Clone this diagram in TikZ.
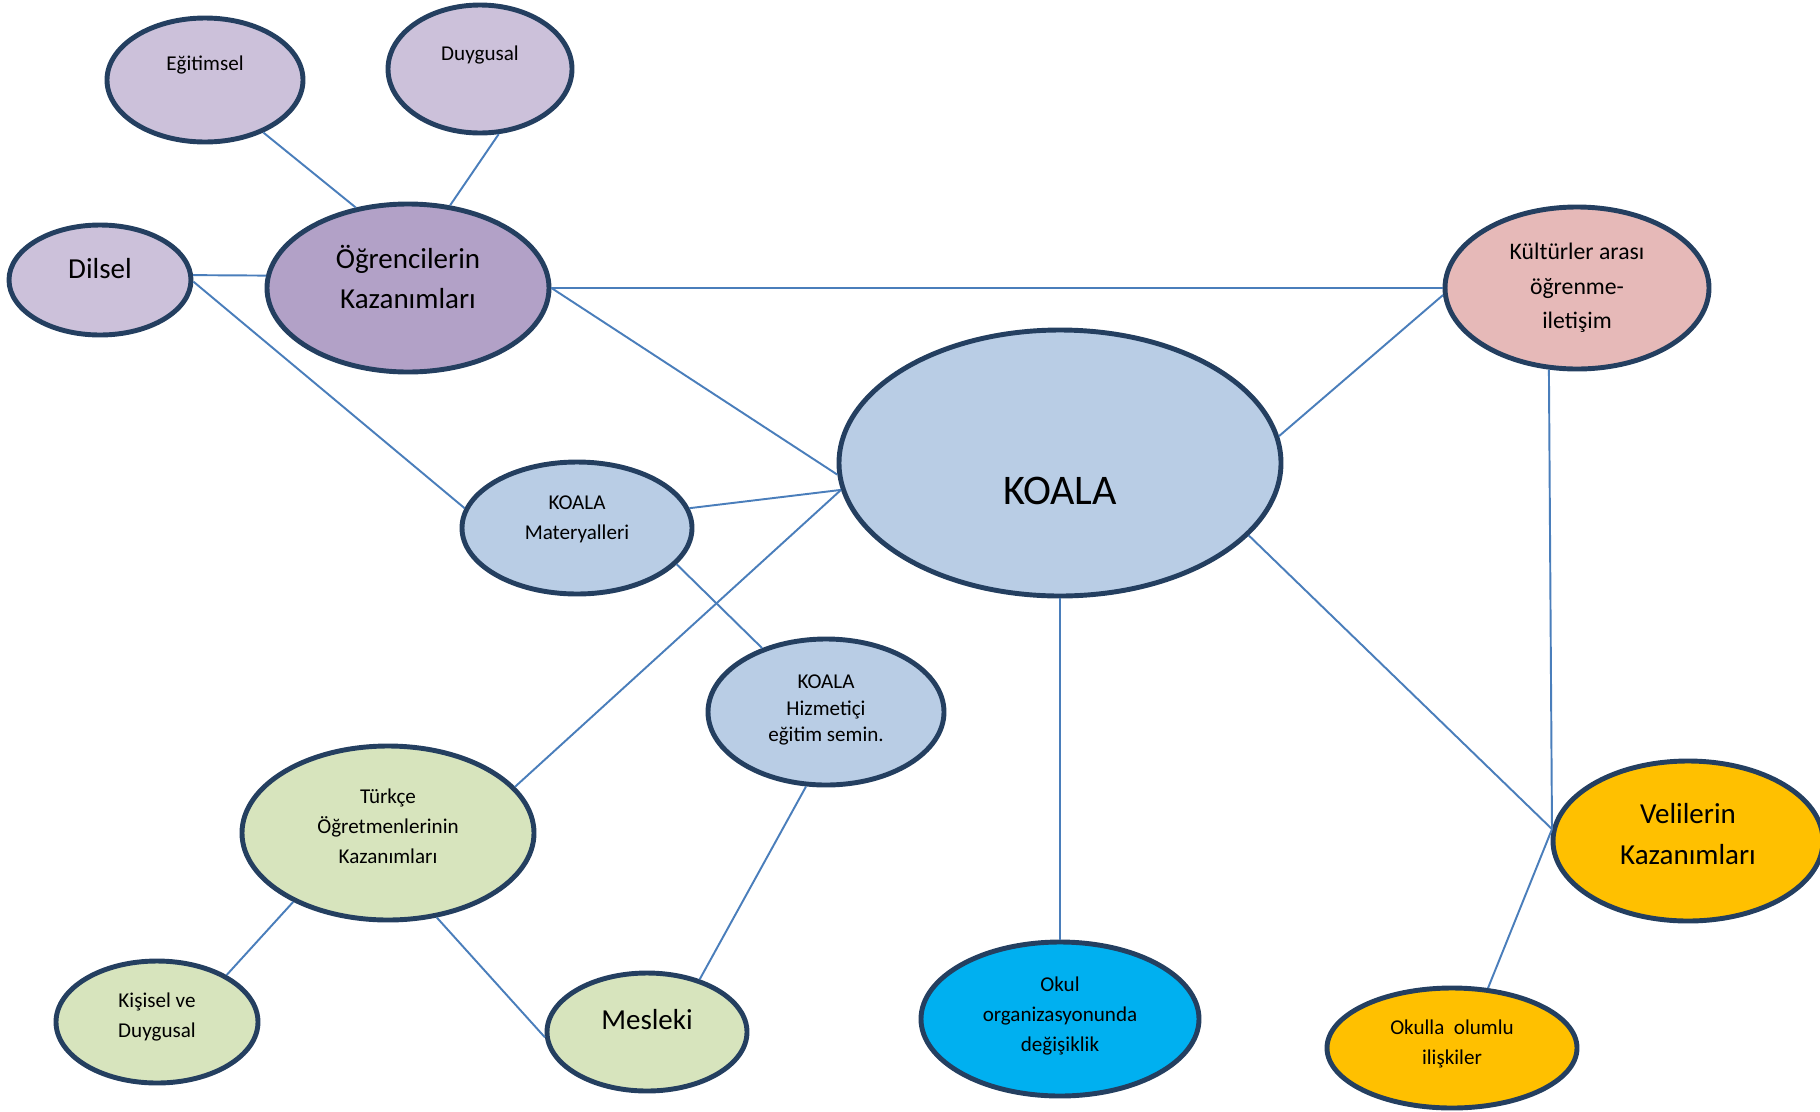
\documentclass[tikz,border=0pt]{standalone}
\usepackage{fontspec}
\setmainfont{Carlito}
\usetikzlibrary{shapes.geometric}

\definecolor{lilac}{HTML}{CCC1DA}
\definecolor{lilacdark}{HTML}{B2A1C7}
\definecolor{rose}{HTML}{E6B9B8}
\definecolor{paleblue}{HTML}{B9CDE5}
\definecolor{palegreen}{HTML}{D7E4BD}
\definecolor{skyblue}{HTML}{00B0F0}
\definecolor{gold}{HTML}{FFC000}
\definecolor{rim}{HTML}{243F60}
\definecolor{wire}{HTML}{4A7EBB}

\tikzset{
  bubble/.style={ellipse, draw=rim, line width=2.8pt, inner sep=0pt},
  link/.style={draw=wire, line width=1.1pt},
  smalltext/.style={font=\fontsize{12}{17}\selectfont, align=center},
  midtext/.style={font=\fontsize{16.5}{23}\selectfont, align=center},
  bigtext/.style={font=\fontsize{24}{29}\selectfont, align=center}
}

\begin{document}
\begin{tikzpicture}
  \useasboundingbox (0,0) rectangle (36.4,-22.22);

  % students' gains and their three branches
  \node[bubble, fill=lilac, minimum width=3.92cm, minimum height=2.48cm,
        label={[smalltext, yshift=0.3cm]center:Eğitimsel}] (egitimsel) at (4.10,-1.60) {};
  \node[bubble, fill=lilac, minimum width=3.68cm, minimum height=2.56cm,
        label={[smalltext, yshift=0.29cm]center:Duygusal}] (duygusal) at (9.60,-1.38) {};
  \node[bubble, fill=lilac, minimum width=3.64cm, minimum height=2.20cm,
        label={[midtext, yshift=0.22cm]center:Dilsel}] (dilsel) at (2.00,-5.60) {};
  \node[bubble, fill=lilacdark, minimum width=5.64cm, minimum height=3.36cm,
        label={[midtext, yshift=0.22cm]center:{Öğrencilerin\\Kazanımları}}] (ogr) at (8.16,-5.76) {};

  % intercultural learning
  \node[bubble, fill=rose, minimum width=5.28cm, minimum height=3.24cm,
        label={[font=\fontsize{13.5}{19.5}\selectfont, align=center]center:{Kültürler arası\\öğrenme-\\iletişim}}] (kult) at (31.54,-5.76) {};

  % the project in the middle
  \node[bubble, fill=paleblue, minimum width=8.84cm, minimum height=5.32cm,
        label={[bigtext, yshift=-0.56cm]center:KOALA}] (koala) at (21.20,-9.26) {};
  \node[bubble, fill=paleblue, minimum width=4.60cm, minimum height=2.64cm,
        label={[smalltext, yshift=0.18cm]center:{KOALA\\Materyalleri}}] (mat) at (11.54,-10.56) {};
  \node[bubble, fill=paleblue, minimum width=4.72cm, minimum height=2.92cm,
        label={[font=\fontsize{12}{15}\selectfont, align=center, yshift=0.04cm]center:{KOALA\\Hizmetiçi\\eğitim semin.}}] (hizm) at (16.52,-14.24) {};

  % teachers' gains
  \node[bubble, fill=palegreen, minimum width=5.84cm, minimum height=3.48cm,
        label={[smalltext, yshift=0.14cm]center:{Türkçe\\Öğretmenlerinin\\Kazanımları}}] (turk) at (7.76,-16.66) {};
  \node[bubble, fill=palegreen, minimum width=4.04cm, minimum height=2.44cm,
        label={[smalltext, yshift=0.1cm]center:{Kişisel ve\\Duygusal}}] (kis) at (3.14,-20.44) {};
  \node[bubble, fill=palegreen, minimum width=4.00cm, minimum height=2.36cm,
        label={[midtext, yshift=0.24cm]center:Mesleki}] (mes) at (12.94,-20.64) {};

  % school and parents
  \node[bubble, fill=skyblue, minimum width=5.56cm, minimum height=3.08cm,
        label={[smalltext, yshift=0.06cm]center:{Okul\\organizasyonunda\\değişiklik}}] (okul) at (21.20,-20.38) {};
  \node[bubble, fill=gold, minimum width=5.40cm, minimum height=3.20cm,
        label={[midtext, yshift=0.14cm]center:{Velilerin\\Kazanımları}}] (vel) at (33.76,-16.82) {};
  \node[bubble, fill=gold, minimum width=5.00cm, minimum height=2.40cm,
        label={[smalltext, yshift=0.09cm]center:{Okulla\ \ olumlu\\ilişkiler}}] (okl) at (29.04,-20.96) {};

  % connectors
  \draw[link] (egitimsel.-42) -- (ogr.123);
  \draw[link] (duygusal.-74) -- (ogr.63);
  \draw[link] (dilsel.3) -- (ogr.175);
  \draw[link] (dilsel.-1) -- (mat.170);
  \draw[link] (ogr.east) -- (kult.west);
  \draw[link] (ogr.east) -- (koala.183);
  \draw[link] (mat.10) -- (koala.187);
  \draw[link] (mat.-20) -- (hizm.135);
  \draw[link] (turk.20) -- (koala.187);
  \draw[link] (turk.216) -- (kis.34);
  \draw[link] (turk.-60) -- (mes.183);
  \draw[link] (hizm.-105) -- (mes.45);
  \draw[link] (koala.7) -- (kult.183);
  \draw[link] (koala.south) -- (okul.north);
  \draw[link] (koala.-21) -- (vel.175);
  \draw[link] (kult.251) -- (vel.175);
  \draw[link] (vel.175) -- (okl.59);
\end{tikzpicture}
\end{document}
